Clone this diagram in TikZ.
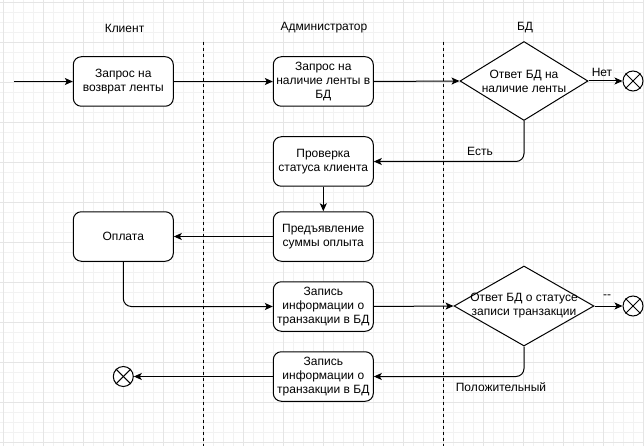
\documentclass[tikz,border=0pt]{standalone}
\usepackage{fontspec}
\setmainfont{Liberation Sans}
\usetikzlibrary{shapes.geometric,arrows.meta}
\begin{document}
\begin{tikzpicture}[x=1pt,y=-1pt,
  every node/.style={font=\fontsize{12}{14}\selectfont},
  box/.style={draw, line width=1pt, rounded corners=8pt, minimum width=100pt, minimum height=49.5pt, inner sep=1pt, align=center, fill=white},
  dia/.style={draw, line width=1pt, diamond, inner sep=0pt, fill=white},
  endc/.style={draw, line width=1pt, circle, minimum size=20pt, inner sep=0pt, fill=white},
  arr/.style={draw, line width=1pt, -{Stealth[length=8pt,width=7pt,inset=2pt]}},
  lane/.style={line width=0.8pt, dash pattern=on 3pt off 3pt},
  lbl/.style={inner sep=0pt}]
\useasboundingbox (0,0) rectangle (644,446);
\fill[white] (0,0) rectangle (644,446);
% grid
\foreach \x in {3,13,...,643} \draw[black!5, line width=0.8pt] (\x,0) -- (\x,446);
\foreach \y in {2,12,...,446} \draw[black!5, line width=0.8pt] (0,\y) -- (644,\y);
\foreach \x in {3,43,...,643} \draw[black!10, line width=0.8pt] (\x,0) -- (\x,446);
\foreach \y in {2,42,...,446} \draw[black!10, line width=0.8pt] (0,\y) -- (644,\y);
% lanes
\node[lbl] (t1) at (124.5,28) {Клиент};
\node[lbl] (t2) at (324,28) {Администратор};
\node[lbl] (t3) at (525,28) {БД};
\coordinate (l1a) at (203.3,41.7); \coordinate (l1b) at (203.3,446);
\coordinate (l2a) at (443.3,41.7); \coordinate (l2b) at (443.3,446);
\draw[lane] (l1a) -- (l1b);
\draw[lane] (l2a) -- (l2b);
% nodes
\node[box] (b1) at (123.3,81.5) {Запрос на\\возврат ленты};
\node[box] (b2) at (323.3,81.5) {Запрос на\\наличие ленты в\\БД};
\node[dia, minimum width=128pt, minimum height=79pt] (d1) at (524,81) {};
\node[lbl, align=center] (d1t) at (524,81) {Ответ БД на\\наличие ленты};
\node[endc] (e1) at (633,81) {};
\node[box] (b3) at (323.3,161.5) {Проверка\\статуса клиента};
\node[box] (b4) at (323.3,236.5) {Предъявление\\суммы оплыта};
\node[box] (b5) at (123.3,236.5) {Оплата};
\node[box] (b6) at (323.3,306.5) {Запись\\информации о\\транзакции в БД};
\node[dia, minimum width=140pt, minimum height=80pt] (d2) at (524,306) {};
\node[lbl, align=center] (d2t) at (524,306) {Ответ БД о статусе\\записи транзакции};
\node[endc] (e2) at (633,306) {};
\node[box] (b7) at (323.3,376.5) {Запись\\информации о\\транзакции в БД};
\node[endc] (e3) at (123.3,376.5) {};
\foreach \e in {e1,e2,e3}{
  \draw[line width=1pt] (\e.north west) -- (\e.south east);
  \draw[line width=1pt] (\e.north east) -- (\e.south west);
}
% connectors
\coordinate (s) at (14,81.5);
\draw[arr] (s) -- (b1.west);
\draw[arr] (b1.east) -- (b2.west);
\draw[arr] (b2.east) -- (d1.west);
\draw[arr] (d1.east) -- (e1.west);
\draw[arr, rounded corners=8pt] (d1.south) |- (b3.east);
\draw[arr] (b3.south) -- (b4.north);
\draw[arr] (b4.west) -- (b5.east);
\draw[arr, rounded corners=8pt] (b5.south) |- (b6.west);
\draw[arr] (b6.east) -- (d2.west);
\draw[arr] (d2.east) -- (e2.west);
\draw[arr, rounded corners=8pt] (d2.south) |- (b7.east);
\draw[arr] (b7.west) -- (e3.east);
% labels
\node[lbl] (n1) at (602,72) {Нет};
\node[lbl] (n2) at (480,151.5) {Есть};
\node[lbl] (n3) at (607,297) {-{}-};
\node[lbl] (n4) at (501,387) {Положительный};
\end{tikzpicture}
\end{document}
